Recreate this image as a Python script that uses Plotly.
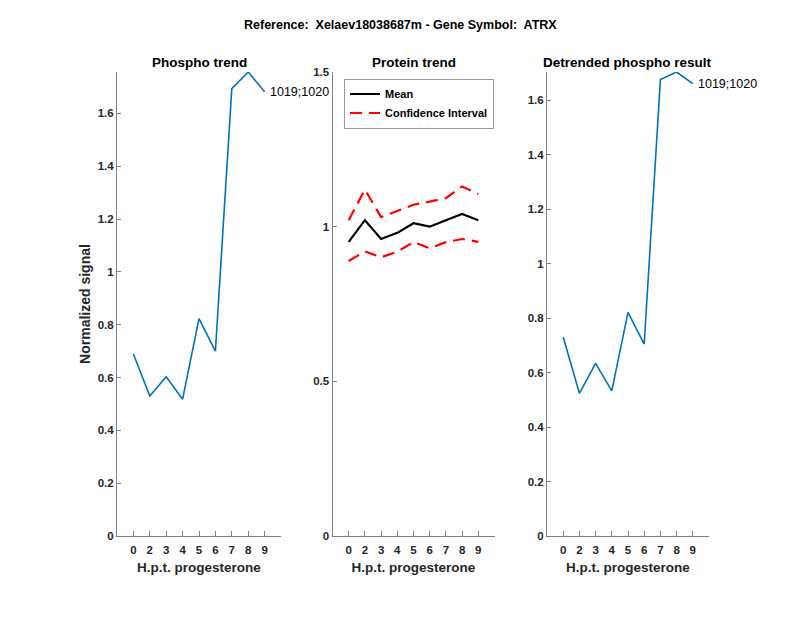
import plotly.graph_objects as go

categories = ["0", "2", "3", "4", "5", "6", "7", "8", "9"]
phospho = [0.689, 0.530, 0.603, 0.518, 0.823, 0.700, 1.694, 1.757, 1.682]
protein_mean = [0.951, 1.021, 0.960, 0.980, 1.011, 1.000, 1.021, 1.041, 1.021]
protein_upper = [1.021, 1.120, 1.031, 1.051, 1.071, 1.081, 1.092, 1.130, 1.106]
protein_lower = [0.889, 0.920, 0.901, 0.919, 0.950, 0.930, 0.950, 0.960, 0.951]
detrended = [0.731, 0.524, 0.634, 0.533, 0.821, 0.705, 1.676, 1.704, 1.661]
site_label = "1019;1020"

xpos = list(range(1, len(categories) + 1))

FONT = "Liberation Sans"
AX = "#262626"
AXLINE = "#808080"
BLUE = "#0072BD"
W, H = 800, 618
DASH = "12px,7px"

fig = go.Figure()

fig.add_trace(go.Scatter(x=xpos, y=phospho, mode="lines", line=dict(color=BLUE, width=1.6),
                         showlegend=False, xaxis="x", yaxis="y"))
fig.add_trace(go.Scatter(x=xpos, y=protein_mean, mode="lines", name="<b>Mean</b>",
                         line=dict(color="black", width=2.2), xaxis="x2", yaxis="y2"))
fig.add_trace(go.Scatter(x=xpos, y=protein_upper, mode="lines", name="<b>Confidence Interval</b>",
                         line=dict(color="#FF0000", width=2.2, dash=DASH), xaxis="x2", yaxis="y2"))
fig.add_trace(go.Scatter(x=xpos, y=protein_lower, mode="lines", name="<b>Confidence Interval</b>",
                         line=dict(color="#FF0000", width=2.2, dash=DASH), showlegend=False,
                         xaxis="x2", yaxis="y2"))
fig.add_trace(go.Scatter(x=xpos, y=detrended, mode="lines", line=dict(color=BLUE, width=1.6),
                         showlegend=False, xaxis="x3", yaxis="y3"))

ydom = [1 - 536 / H, 1 - 72 / H]
xdoms = [[117 / W, 281 / W], [332.5 / W, 494.5 / W], [547 / W, 709 / W]]

xtl = ["<b>%s</b>" % c for c in categories]

def xaxis_cfg(dom, anchor):
    return dict(domain=dom, anchor=anchor, range=[0, 10], tickmode="array",
                tickvals=xpos, ticktext=xtl, ticks="inside", ticklen=5,
                tickcolor=AXLINE, tickwidth=1, showline=True, linecolor=AXLINE, linewidth=1,
                showgrid=False, zeroline=False, ticklabelstandoff=3,
                tickfont=dict(family=FONT, size=11.5, color=AX),
                title=dict(text="<b>H.p.t. progesterone</b>", font=dict(family=FONT, size=13.5, color=AX),
                           standoff=7))

def yaxis_cfg(anchor, rng, tickvals, ticktext):
    return dict(domain=ydom, anchor=anchor, range=rng, tickmode="array",
                tickvals=tickvals, ticktext=ticktext, ticks="inside", ticklen=4,
                tickcolor=AXLINE, tickwidth=1, showline=True, linecolor=AXLINE, linewidth=1,
                showgrid=False, zeroline=False,
                tickfont=dict(family=FONT, size=11.5, color=AX))

yt1 = [0, 0.2, 0.4, 0.6, 0.8, 1, 1.2, 1.4, 1.6]
ytl1 = ["<b>%g</b>" % v for v in yt1]
yt2 = [0, 0.5, 1, 1.5]
ytl2 = ["<b>%g</b>" % v for v in yt2]

x1 = xaxis_cfg(xdoms[0], "y")
x2 = xaxis_cfg(xdoms[1], "y2")
x3 = xaxis_cfg(xdoms[2], "y3")

y1 = yaxis_cfg("x", [0, max(phospho)], yt1, ytl1)
y1["title"] = dict(text="<b>Normalized signal</b>", font=dict(family=FONT, size=14, color=AX), standoff=3)
y2 = yaxis_cfg("x2", [0, 1.5], yt2, ytl2)
y3 = yaxis_cfg("x3", [0, max(detrended)], yt1, ytl1)

annotations = [
    dict(text="<b>Reference:  Xelaev18038687m - Gene Symbol:  ATRX</b>", x=0.5, y=1 - 25.5 / H,
         xref="paper", yref="paper", showarrow=False, font=dict(family=FONT, size=12.5, color="black"),
         xanchor="center", yanchor="middle"),
]
titles = ["Phospho trend", "Protein trend", "Detrended phospho result"]
for dom, t in zip(xdoms, titles):
    annotations.append(dict(text="<b>%s</b>" % t, x=(dom[0] + dom[1]) / 2, y=ydom[1], xref="paper",
                            yref="paper", showarrow=False, xanchor="center", yanchor="bottom", yshift=0,
                            font=dict(family=FONT, size=13.5, color="black")))
annotations.append(dict(text=site_label, x=xpos[-1], y=phospho[-1], xref="x", yref="y",
                        showarrow=False, xanchor="left", yanchor="middle", xshift=3,
                        font=dict(family=FONT, size=12.5, color="black")))
annotations.append(dict(text=site_label, x=xpos[-1], y=detrended[-1], xref="x3", yref="y3",
                        showarrow=False, xanchor="left", yanchor="middle", xshift=3,
                        font=dict(family=FONT, size=12.5, color="black")))

fig.update_layout(
    width=W, height=H, autosize=False,
    margin=dict(l=0, r=0, t=0, b=0, autoexpand=False),
    paper_bgcolor="white", plot_bgcolor="white",
    xaxis=x1, yaxis=y1, xaxis2=x2, yaxis2=y2, xaxis3=x3, yaxis3=y3,
    annotations=annotations,
    legend=dict(x=344 / W, y=1 - 78.5 / H, xanchor="left", yanchor="top",
                bgcolor="white", bordercolor="#999999", borderwidth=1,
                font=dict(family=FONT, size=11, color="black"),
                tracegroupgap=0, itemwidth=30),
    showlegend=True,
)

fig.write_html("out.html", config={"displayModeBar": False},
               post_script="document.body.style.margin='0px';")
